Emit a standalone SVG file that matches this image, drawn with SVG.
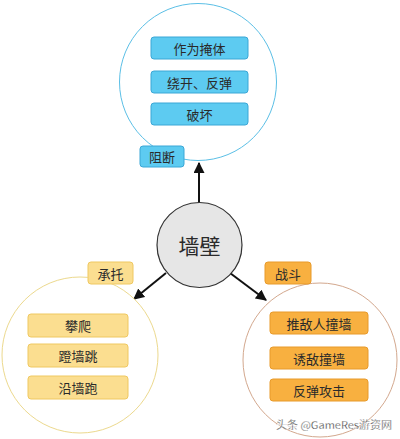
<svg xmlns="http://www.w3.org/2000/svg" width="400" height="439" viewBox="0 0 400 439">
<defs>
<style>
text{font-family:"Noto Sans CJK SC","Noto Sans",sans-serif;text-anchor:middle;dominant-baseline:central;fill:#2a2a2a}
.bx{font-size:13px}
.blue{fill:#5dcbf1;stroke:#3ba7d6;stroke-width:1}
.yel{fill:#fbde90;stroke:#efc860;stroke-width:1}
.org{fill:#f8b040;stroke:#e89a2a;stroke-width:1}
.edge{stroke:#111;stroke-width:2;fill:none;marker-end:url(#ah)}
</style>
<marker id="ah" viewBox="0 0 10 10" refX="9" refY="5" markerWidth="5.5" markerHeight="5.5" orient="auto" markerUnits="strokeWidth">
<path d="M0,0 L10,5 L0,10 z" fill="#111"/>
</marker>
</defs>
<rect width="400" height="439" fill="#fff"/>
<g id="connectors">
<line class="edge" x1="199" y1="204" x2="199" y2="163"/>
<line class="edge" x1="166" y1="273" x2="134" y2="299"/>
<line class="edge" x1="230" y1="273" x2="266" y2="300"/>
</g>
<g id="block">
<circle cx="198" cy="82" r="78.5" fill="#fff" stroke="#5bbfe6" stroke-width="1"/>
<rect class="blue" x="151" y="37" width="97" height="22" rx="3"/>
<text class="bx" x="199.5" y="48">作为掩体</text>
<rect class="blue" x="151" y="71" width="97" height="22" rx="3"/>
<text class="bx" x="199.5" y="82">绕开、反弹</text>
<rect class="blue" x="151" y="103" width="97" height="22" rx="3"/>
<text class="bx" x="199.5" y="114">破坏</text>
<rect class="blue" x="140" y="146" width="44" height="21" rx="3"/>
<text class="bx" x="162" y="156.5">阻断</text>
</g>
<g id="wall">
<circle cx="199.5" cy="245" r="42.5" fill="#e6e6e6" stroke="#333" stroke-width="1.2"/>
<text x="199.5" y="245" font-size="21">墙壁</text>
</g>
<g id="support">
<circle cx="80" cy="355" r="78" fill="#fff" stroke="#ecd98e" stroke-width="1"/>
<rect class="yel" x="28" y="314" width="100" height="23" rx="3"/>
<text class="bx" x="78" y="325.5">攀爬</text>
<rect class="yel" x="28" y="344" width="100" height="23" rx="3"/>
<text class="bx" x="78" y="355.5">蹬墙跳</text>
<rect class="yel" x="28" y="376" width="100" height="23" rx="3"/>
<text class="bx" x="78" y="387.5">沿墙跑</text>
<rect class="yel" x="88" y="262" width="45" height="22" rx="3"/>
<text class="bx" x="110.5" y="273">承托</text>
</g>
<g id="combat">
<circle cx="320" cy="360" r="77" fill="#fff" stroke="#d3a88e" stroke-width="1"/>
<rect class="org" x="270" y="312" width="98" height="22" rx="3"/>
<text class="bx" x="319" y="323">推敌人撞墙</text>
<rect class="org" x="270" y="347" width="98" height="22" rx="3"/>
<text class="bx" x="319" y="358">诱敌撞墙</text>
<rect class="org" x="270" y="379" width="98" height="22" rx="3"/>
<text class="bx" x="319" y="390">反弹攻击</text>
<rect class="org" x="265" y="262" width="46" height="22" rx="3"/>
<text class="bx" x="288" y="273">战斗</text>
</g>
<text x="334" y="424" font-size="11" fill="#888" stroke="#fff" stroke-width="0.3">头条 @GameRes游资网</text>
</svg>
